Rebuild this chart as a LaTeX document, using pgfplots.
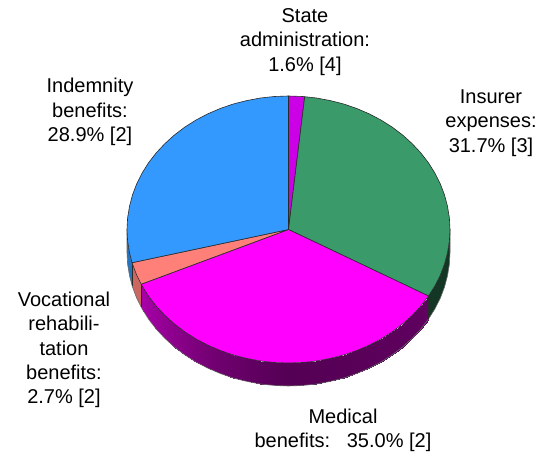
\documentclass[border=0pt]{standalone}
\usepackage{fontspec}
\setmainfont{Liberation Sans}
\usepackage{pgfplots}
\usepackage{pgfplotstable}
\pgfplotsset{compat=1.18}
\definecolor{cblue}{HTML}{3399FF}
\definecolor{cviol}{HTML}{CC00E6}
\definecolor{cgreen}{HTML}{3A9A6A}
\definecolor{cmag}{HTML}{FF00FF}
\definecolor{csalm}{HTML}{FF8078}
\definecolor{edge}{HTML}{2A2A2A}
\pgfplotstableread{
x y m
140.0 -66.5 119.88
132.3 -76.6 125
123.7 -85.8 130
114.2 -94.4 135
103.8 -102.3 140
92.6 -109.4 145
80.8 -115.6 150
68.3 -121.0 155
55.2 -125.5 160
41.8 -128.9 165
28.0 -131.5 170
14.1 -133.0 175
0 -133.5 180
-14.1 -133.0 185
-28.0 -131.5 190
-41.8 -128.9 195
-55.2 -125.5 200
-68.3 -121.0 205
-80.8 -115.6 210
-92.6 -109.4 215
-103.8 -102.3 220
-114.2 -94.4 225
-123.7 -85.8 230
-132.3 -76.6 235
-139.9 -66.8 240
-146.4 -56.4 245
-147.3 -54.7 245.88
140.0 -89.5 119.88
132.3 -99.6 125
123.7 -108.8 130
114.2 -117.4 135
103.8 -125.3 140
92.6 -132.4 145
80.8 -138.6 150
68.3 -144.0 155
55.2 -148.5 160
41.8 -151.9 165
28.0 -154.5 170
14.1 -156.0 175
0 -156.5 180
-14.1 -156.0 185
-28.0 -154.5 190
-41.8 -151.9 195
-55.2 -148.5 200
-68.3 -144.0 205
-80.8 -138.6 210
-92.6 -132.4 215
-103.8 -125.3 220
-114.2 -117.4 225
-123.7 -108.8 230
-132.3 -99.6 235
-139.9 -89.8 240
-146.4 -79.4 245
-147.3 -77.7 245.88
}\magside
\begin{document}
\begin{tikzpicture}
\useasboundingbox (0,0) rectangle (542pt,452pt);
\begin{axis}[
  at={(0,0)}, anchor=south west,
  width=542pt, height=452pt, scale only axis,
  xmin=-288.5, xmax=253.5, ymin=-222.5, ymax=229.5,
  hide axis, clip=false,
  point meta min=120, point meta max=246,
  colormap={sidemag}{rgb255(120)=(96,0,96) rgb255(180)=(84,0,84) rgb255(205)=(110,0,110) rgb255(246)=(170,0,170)},
  every axis plot/.append style={line join=round},
]
% side faces
\addplot[surf, shader=interp, mesh/rows=2, point meta=explicit] table[x=x,y=y,meta=m] {\magside};
\addplot[fill=cgreen!35!black, draw=none] coordinates {(161.5,0)(160.9,-11.6)(159.0,-23.2)(156.0,-34.6)(151.8,-45.7)(146.4,-56.4)(140.0,-66.5)(140.0,-89.5)(146.4,-79.4)(151.8,-68.7)(156.0,-57.6)(159.0,-46.2)(160.9,-34.6)(161.5,-23)(161.5,0)};
\addplot[fill=csalm!80!black, draw=none] coordinates {(-147.3,-54.7)(-151.8,-45.7)(-156.0,-34.6)(-156.4,-33.2)(-156.4,-56.2)(-156.0,-57.6)(-151.8,-68.7)(-147.3,-77.7)(-147.3,-54.7)};
\addplot[fill=cblue!75!black, draw=none] coordinates {(-156.4,-33.2)(-159.0,-23.2)(-160.9,-11.6)(-161.5,0)(-161.5,-23)(-160.9,-34.6)(-159.0,-46.2)(-156.4,-56.2)(-156.4,-33.2)};
% outer lower rim and vertical edges
\addplot[draw=edge!70, line width=0.6pt] coordinates {(161.5,0)(161.5,-23)(160.9,-34.6)(159.0,-46.2)(156.0,-57.6)(151.8,-68.7)(146.4,-79.4)(140.0,-89.5)(132.3,-99.6)(123.7,-108.8)(114.2,-117.4)(103.8,-125.3)(92.6,-132.4)(80.8,-138.6)(68.3,-144.0)(55.2,-148.5)(41.8,-151.9)(28.0,-154.5)(14.1,-156.0)(0,-156.5)(-14.1,-156.0)(-28.0,-154.5)(-41.8,-151.9)(-55.2,-148.5)(-68.3,-144.0)(-80.8,-138.6)(-92.6,-132.4)(-103.8,-125.3)(-114.2,-117.4)(-123.7,-108.8)(-132.3,-99.6)(-139.9,-89.8)(-146.4,-79.4)(-151.8,-68.7)(-156.0,-57.6)(-159.0,-46.2)(-160.9,-34.6)(-161.5,-23)(-161.5,0)};
\addplot[draw=edge, line width=0.6pt] coordinates {(140.0,-66.5)(140.0,-89.5)};
\addplot[draw=edge, line width=0.6pt] coordinates {(-147.3,-54.7)(-147.3,-77.7)};
\addplot[draw=edge, line width=0.6pt] coordinates {(-156.4,-33.2)(-156.4,-56.2)};
% top wedges
\addplot[fill=cviol, draw=edge, line width=0.6pt] coordinates {(0,0)(0,133.5)(14.1,133.0)(16.2,132.8)(0,0)};
\addplot[fill=cgreen, draw=edge, line width=0.6pt] coordinates {(0,0)(16.2,132.8)(28.0,131.5)(41.8,128.9)(55.2,125.5)(68.3,121.0)(80.8,115.6)(92.6,109.4)(103.8,102.3)(114.2,94.4)(123.7,85.8)(132.3,76.6)(139.9,66.8)(146.4,56.4)(151.8,45.7)(156.0,34.6)(159.0,23.2)(160.9,11.6)(161.5,0)(160.9,-11.6)(159.0,-23.2)(156.0,-34.6)(151.8,-45.7)(146.4,-56.4)(140.0,-66.5)(0,0)};
\addplot[fill=cmag, draw=edge, line width=0.6pt] coordinates {(0,0)(140.0,-66.5)(132.3,-76.6)(123.7,-85.8)(114.2,-94.4)(103.8,-102.3)(92.6,-109.4)(80.8,-115.6)(68.3,-121.0)(55.2,-125.5)(41.8,-128.9)(28.0,-131.5)(14.1,-133.0)(0,-133.5)(-14.1,-133.0)(-28.0,-131.5)(-41.8,-128.9)(-55.2,-125.5)(-68.3,-121.0)(-80.8,-115.6)(-92.6,-109.4)(-103.8,-102.3)(-114.2,-94.4)(-123.7,-85.8)(-132.3,-76.6)(-139.9,-66.8)(-146.4,-56.4)(-147.3,-54.7)(0,0)};
\addplot[fill=csalm, draw=edge, line width=0.6pt] coordinates {(0,0)(-147.3,-54.7)(-151.8,-45.7)(-156.0,-34.6)(-156.4,-33.2)(0,0)};
\addplot[fill=cblue, draw=edge, line width=0.6pt] coordinates {(0,0)(-156.4,-33.2)(-159.0,-23.2)(-160.9,-11.6)(-161.5,0)(-160.9,11.6)(-159.0,23.2)(-156.0,34.6)(-151.8,45.7)(-146.4,56.4)(-139.9,66.8)(-132.3,76.6)(-123.7,85.8)(-114.2,94.4)(-103.8,102.3)(-92.6,109.4)(-80.8,115.6)(-68.3,121.0)(-55.2,125.5)(-41.8,128.9)(-28.0,131.5)(-14.1,133.0)(0,133.5)(0,0)};
% labels
\tikzset{lab/.style={align=center, inner sep=0pt, text=black, font=\fontsize{20}{24.3}\selectfont}}
\node[lab] at (axis cs:16.5,187.5) {State\\administration:\\1.6\% [4]};
\node[lab] at (axis cs:202.5,106.5) {Insurer\\expenses:\\31.7\% [3]};
\node[lab] at (axis cs:-198.5,117.5) {Indemnity\\benefits:\\28.9\% [2]};
\node[lab] at (axis cs:-224.5,-120.5) {Vocational\\rehabili-\\tation\\benefits:\\2.7\% [2]};
\node[lab] at (axis cs:54.5,-200.5) {Medical\\benefits:~~~35.0\% [2]};
\end{axis}
\end{tikzpicture}
\end{document}
